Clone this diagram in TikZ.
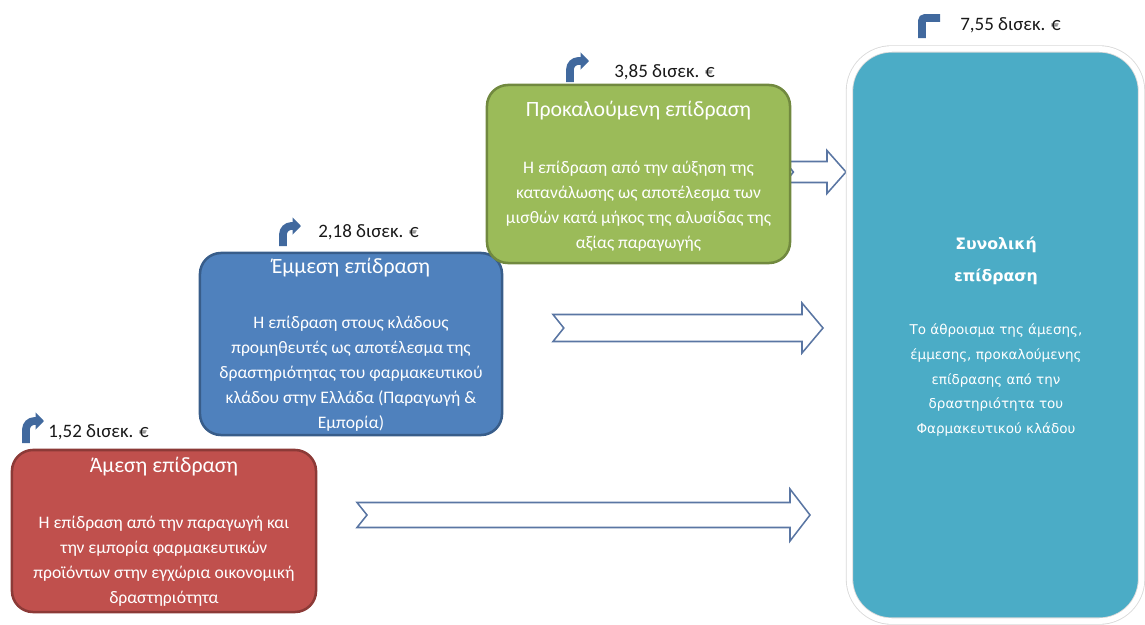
\documentclass[tikz,border=0pt]{standalone}
\usepackage{fontspec}
\setmainfont{Carlito}
\newfontfamily\totalfont{DejaVu Sans}
\usetikzlibrary{arrows.meta,positioning}

\definecolor{directred}{HTML}{C0504D}
\definecolor{directedge}{HTML}{8C3A37}
\definecolor{indirectblue}{HTML}{4F81BD}
\definecolor{indirectedge}{HTML}{385D8A}
\definecolor{inducedgreen}{HTML}{9BBB59}
\definecolor{inducededge}{HTML}{71893F}
\definecolor{totalteal}{HTML}{4BACC6}
\definecolor{hollowedge}{HTML}{5A76A3}
\definecolor{iconblue}{HTML}{41699E}

% hollow block arrow: tail coordinate, length, shaft half, head half, head length
\newcommand{\blockarrow}[5]{%
  \draw[hollow] (#1) ++(0,-#3) -- ++(#2-#5,0) -- ++(0,#3-#4) -- ++(#5,#4)
    -- ++(-#5,#4) -- ++(0,#3-#4) -- ++(#5-#2,0) -- ++(0.8*#3,-#3) -- cycle;}

\begin{document}
\begin{tikzpicture}[x=0.025cm,y=-0.025cm]
    \tikzset{
      hollow/.style={draw=hollowedge, line width=1.1pt, fill=white, line join=miter},
      effbox/.style={rectangle, rounded corners=15pt, line width=1.8pt},
      boxtitle/.style={text=white, inner sep=0pt, font=\fontsize{15.5}{18}\selectfont},
      boxbody/.style={text=white, inner sep=0pt, align=center,
          font=\fontsize{12.5}{17.8}\selectfont},
      value/.style={anchor=west, inner sep=0pt, text=black!90,
          font=\fontsize{13.5}{16}\selectfont},
      icon/.style={draw=iconblue, line width=5.5pt, rounded corners=6pt},
      bent/.style={icon, -{Triangle[length=6pt, width=12pt]}}
    }
    \useasboundingbox (0,0) rectangle (1145,625);

    % arrows first, so the boxes cover their tails
    \coordinate (lowtail) at (357,515);
    \coordinate (midtail) at (553,328);
    \coordinate (toptail) at (785,172);
    \blockarrow{lowtail}{453}{12.5}{26}{20}
    \blockarrow{midtail}{270}{13.5}{25}{21}
    \blockarrow{toptail}{61}{10.5}{21.5}{19}

    % effect boxes
    \node(direct) [effbox, fill=directred, draw=directedge,
        minimum width=7.6cm, minimum height=4.05cm] at (164,531) {};
    \node(indirect) [effbox, fill=indirectblue, draw=indirectedge,
        minimum width=7.55cm, minimum height=4.55cm] at (351,344) {};
    \node(induced) [effbox, fill=inducedgreen, draw=inducededge,
        minimum width=7.575cm, minimum height=4.45cm] at (638.5,174) {};
    \node(total) [rectangle, rounded corners=30pt, fill=totalteal,
        draw=black!15, double=white, double distance=4pt, line width=0.6pt,
        minimum width=7.3cm, minimum height=14.3cm] at (995.5,335) {};

    \node(directtitle) [boxtitle] at (164,467) {Άμεση επίδραση};
    \node(directtext) [boxbody] at (164,561)
        {Η επίδραση από την παραγωγή και\\ την εμπορία φαρμακευτικών\\
         προϊόντων στην εγχώρια οικονομική\\ δραστηριότητα};

    \node(indirecttitle) [boxtitle] at (351,268) {Έμμεση επίδραση};
    \node(indirecttext) [boxbody] at (351,374)
        {Η επίδραση στους κλάδους\\ προμηθευτές ως αποτέλεσμα της\\
         δραστηριότητας του φαρμακευτικού\\ κλάδου στην Ελλάδα (Παραγωγή \&\\
         Εμπορία)};

    \node(inducedtitle) [boxtitle] at (638.5,111) {Προκαλούμενη επίδραση};
    \node(inducedtext) [boxbody] at (638.5,206)
        {Η επίδραση από την αύξηση της\\ κατανάλωσης ως αποτέλεσμα των\\
         μισθών κατά μήκος της αλυσίδας της\\ αξίας παραγωγής};

    \node(totaltitle) [text=white, inner sep=0pt, align=center,
        font=\totalfont\bfseries\fontsize{11.2}{22.8}\selectfont] at (996,261)
        {Συνολική\\ επίδραση};
    \node(totaltext) [text=white, inner sep=0pt, align=center,
        font=\totalfont\fontsize{9.6}{17.6}\selectfont] at (996,380)
        {Το άθροισμα της άμεσης,\\ έμμεσης, προκαλούμενης\\ επίδρασης από την\\
         δραστηριότητα του\\ Φαρμακευτικού κλάδου};

    % value markers
    \coordinate (directicon) at (26,443);
    \coordinate (indirecticon) at (283,246);
    \coordinate (inducedicon) at (570,82);
    \coordinate (totalicon) at (922,38);
    \draw[bent] (directicon) |- ++(18,-22);
    \draw[bent] (indirecticon) |- ++(18,-20);
    \draw[bent] (inducedicon) |- ++(19,-21);
    \draw[icon, rounded corners=2pt] (totalicon) |- ++(18,-20);

    \node(directval) [value] at (48,432) {1,52 δισεκ. €};
    \node(indirectval) [value] at (318,232) {2,18 δισεκ. €};
    \node(inducedval) [value] at (614,72) {3,85 δισεκ. €};
    \node(totalval) [value] at (960,25) {7,55 δισεκ. €};
\end{tikzpicture}
\end{document}
